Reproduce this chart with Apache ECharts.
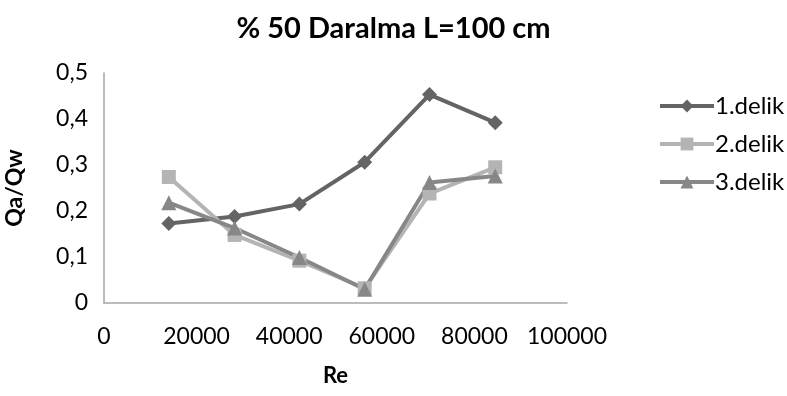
<!DOCTYPE html>
<html>
<head>
<meta charset="utf-8">
<script src="https://cdn.jsdelivr.net/npm/echarts@6/dist/echarts.min.js"></script>
<style>
  html, body { margin: 0; padding: 0; background: #fff; }
  #chart { width: 787px; height: 396px; }
</style>
</head>
<body>
<div id="chart"></div>
<script>
// Reynolds numbers shared by all three holes
const reValues = [14000, 28200, 42200, 56300, 70300, 84500];
// Qa/Qw ratio for each hole
const delik1 = [0.173, 0.188, 0.215, 0.306, 0.453, 0.392];
const delik2 = [0.274, 0.148, 0.092, 0.032, 0.238, 0.295];
const delik3 = [0.218, 0.163, 0.099, 0.030, 0.262, 0.276];
const seriesNames = ['1.delik', '2.delik', '3.delik'];

const FONT = 'Lato, "Open Sans", sans-serif';
const toPairs = ys => reValues.map((x, i) => [x, ys[i]]);

const chart = echarts.init(document.getElementById('chart'), null, { renderer: 'canvas' });

function lineSeries(name, ys, color, symbol, size) {
  return {
    name: name,
    type: 'line',
    data: toPairs(ys),
    symbol: symbol,
    symbolSize: size,
    showAllSymbol: true,
    lineStyle: { color: color, width: 4 },
    itemStyle: { color: color },
    emphasis: { disabled: true },
    animation: false
  };
}

chart.setOption({
  backgroundColor: '#ffffff',
  title: {
    text: '% 50 Daralma L=100 cm',
    left: 'center',
    top: 9,
    textStyle: { fontFamily: FONT, fontWeight: 'bold', fontSize: 29, color: '#000' }
  },
  legend: {
    orient: 'vertical',
    left: 653,
    top: 89,
    itemWidth: 54,
    itemHeight: 16,
    itemGap: 14,
    lineStyle: { width: 4, inactiveWidth: 4 },
    textStyle: { fontFamily: FONT, fontSize: 24, color: '#000', padding: [0, 0, 0, -4] },
    data: seriesNames
  },
  grid: { left: 104, right: 220, top: 73, bottom: 93, outerBoundsMode: 'none', containLabel: false },
  xAxis: {
    type: 'value',
    min: 0,
    max: 100000,
    interval: 20000,
    name: 'Re',
    nameLocation: 'middle',
    nameGap: 62,
    nameTextStyle: { fontFamily: FONT, fontWeight: 'bold', fontSize: 22, color: '#000' },
    axisLine: { show: true, lineStyle: { color: '#a6a6a6', width: 1.5 } },
    axisTick: { show: false },
    splitLine: { show: false },
    axisLabel: {
      fontFamily: FONT, fontSize: 23, color: '#000', margin: 22,
      formatter: v => String(v)
    }
  },
  yAxis: {
    type: 'value',
    min: 0,
    max: 0.5,
    interval: 0.1,
    name: 'Qa/Qw',
    nameLocation: 'middle',
    nameGap: 78,
    nameRotate: 90,
    nameTextStyle: { fontFamily: FONT, fontWeight: 'bold', fontSize: 23, color: '#000' },
    axisLine: { show: true, lineStyle: { color: '#a6a6a6', width: 1.5 } },
    axisTick: { show: false },
    splitLine: { show: false },
    axisLabel: {
      fontFamily: FONT, fontSize: 23, color: '#000', margin: 16,
      formatter: v => (Math.round(v * 10) / 10).toString().replace('.', ',')
    }
  },
  series: [
    lineSeries(seriesNames[0], delik1, '#646464', 'diamond', 15),
    lineSeries(seriesNames[1], delik2, '#b4b4b4', 'rect', 14),
    lineSeries(seriesNames[2], delik3, '#878787', 'triangle', 15)
  ]
});
</script>
</body>
</html>
